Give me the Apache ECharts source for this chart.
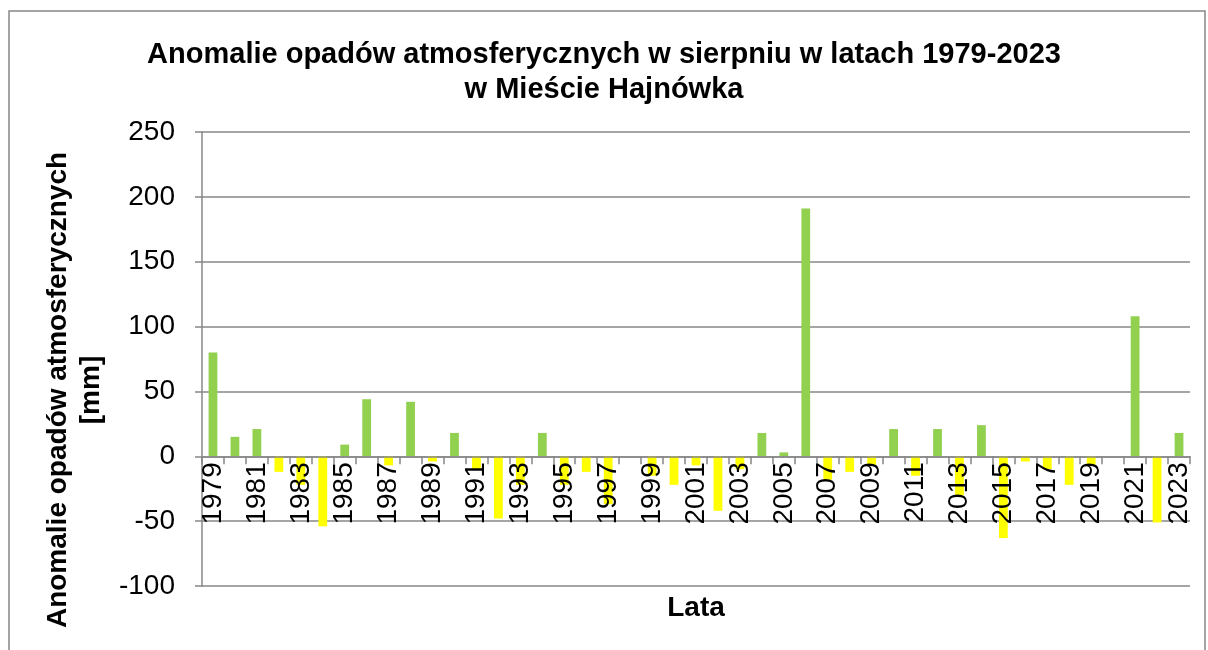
<!DOCTYPE html>
<html>
<head>
<meta charset="utf-8">
<script src="https://cdn.jsdelivr.net/npm/echarts@6/dist/echarts.min.js"></script>
<style>
  html, body { margin: 0; padding: 0; background: #fff; }
  #chart { width: 1208px; height: 650px; }
</style>
</head>
<body>
<div id="chart"></div>
<script>
// lata 1979-2023
var years = ['1979', '1980', '1981', '1982', '1983', '1984', '1985', '1986', '1987', '1988',
    '1989', '1990', '1991', '1992', '1993', '1994', '1995', '1996', '1997', '1998',
    '1999', '2000', '2001', '2002', '2003', '2004', '2005', '2006', '2007', '2008',
    '2009', '2010', '2011', '2012', '2013', '2014', '2015', '2016', '2017', '2018',
    '2019', '2020', '2021', '2022', '2023'];
// anomalie opadow [mm]
var anomalie = [80, 15, 21, -12, -22, -54, 9, 44, -7, 42,
    -4, 18, -10, -48, -22, 18, -22, -12, -37, 0,
    -15, -22, -7, -42, -10, 18, 3, 191, -18, -12,
    -7, 21, -15, 21, -30, 24, -63, -4, -10, -22,
    -7, 0, 108, -51, 18];
var yTicks = [-100, -50, 0, 50, 100, 150, 200, 250];

var dodatnie = '#92D050';
var ujemne = '#FFFF00';
var szary = '#878787';
var font = '"Liberation Sans", Arial, sans-serif';

var gridTop = 132, gridBottom = 64, chartH = 650;
var yMin = yTicks[0], yMax = yTicks[yTicks.length - 1];
// onZero nie dziala przy stalej siatce, wiec przesuwamy os X na poziom 0 recznie
var gridH = chartH - gridTop - gridBottom;
var zeroOffset = -gridH * (0 - yMin) / (yMax - yMin);

var myChart = echarts.init(document.getElementById('chart'));

var option = {
    backgroundColor: '#fff',
    animation: false,
    textStyle: { fontFamily: font, color: '#000' },
    title: {
        text: 'Anomalie opadów atmosferycznych w sierpniu w latach 1979-2023\nw Mieście Hajnówka',
        left: 'center',
        top: 32,
        textStyle: {
            fontFamily: font,
            fontSize: 29,
            fontWeight: 'bold',
            color: '#000',
            lineHeight: 35
        }
    },
    graphic: [{
        type: 'rect',
        shape: { x: 9, y: 11, width: 1196, height: 700 },
        style: { fill: null, stroke: szary, lineWidth: 1.5 },
        silent: true
    }],
    grid: {
        left: 202,
        right: 18,
        top: gridTop,
        bottom: gridBottom,
        outerBoundsMode: 'none'
    },
    xAxis: {
        type: 'category',
        data: years,
        z: 5,
        offset: zeroOffset,
        name: 'Lata',
        nameLocation: 'middle',
        nameGap: 138,
        nameTextStyle: {
            fontFamily: font,
            fontSize: 28,
            fontWeight: 'bold',
            color: '#000'
        },
        axisLine: { onZero: false, lineStyle: { color: szary, width: 1.5 } },
        axisTick: { show: true, interval: 0, length: 8, lineStyle: { color: szary, width: 1.5 } },
        axisLabel: {
            interval: 1,
            rotate: 90,
            margin: 6,
            fontFamily: font,
            fontSize: 28,
            color: '#000',
            textBorderWidth: 0,
            backgroundColor: 'transparent'
        },
        splitLine: { show: false }
    },
    yAxis: {
        type: 'value',
        min: yMin,
        max: yMax,
        interval: 50,
        name: 'Anomalie opadów atmosferycznych\n[mm]',
        nameLocation: 'middle',
        nameGap: 82,
        nameTextStyle: {
            fontFamily: font,
            fontSize: 28,
            fontWeight: 'bold',
            color: '#000',
            lineHeight: 33,
            padding: [0, 62, 0, 0]
        },
        axisLine: { show: true, lineStyle: { color: szary, width: 1.5 } },
        axisTick: { show: true, length: 7, lineStyle: { color: szary, width: 1.5 } },
        axisLabel: {
            margin: 27,
            fontFamily: font,
            fontSize: 28,
            color: '#000'
        },
        splitLine: { show: true, lineStyle: { color: szary, width: 1.5 } }
    },
    series: [{
        type: 'bar',
        data: anomalie,
        barWidth: '40%',
        itemStyle: {
            color: function (p) {
                return p.value >= 0 ? dodatnie : ujemne;
            }
        }
    }]
};

myChart.setOption(option);
</script>
</body>
</html>
